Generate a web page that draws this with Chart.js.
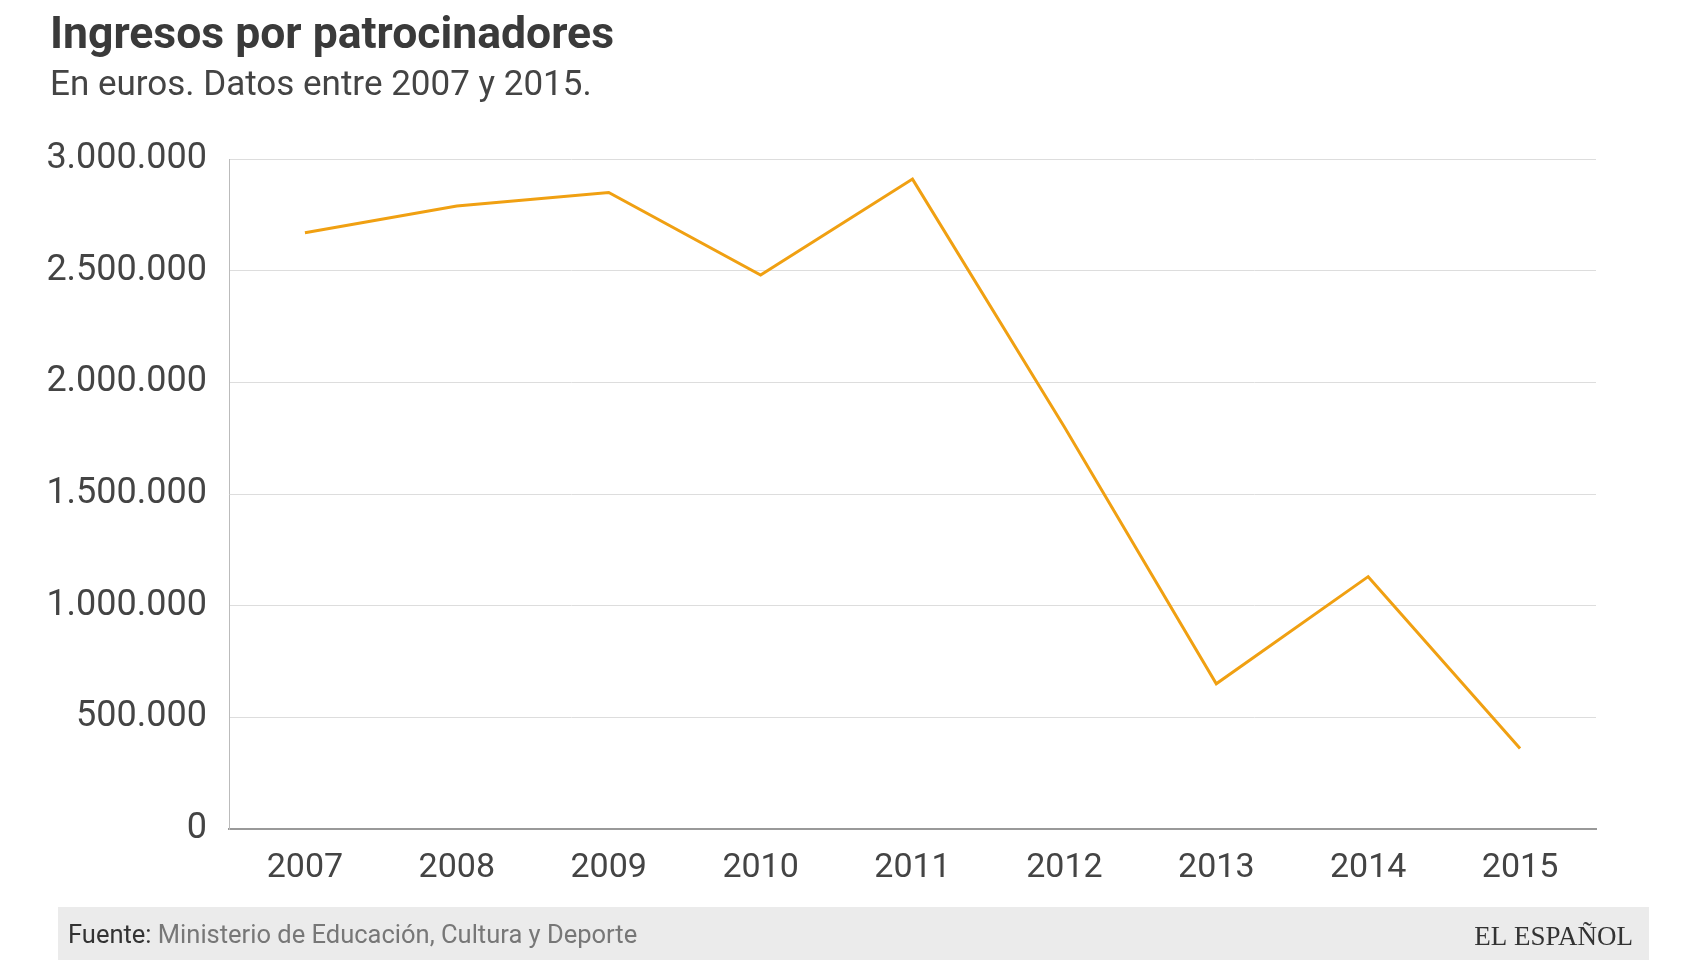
<!DOCTYPE html>
<html><head><meta charset="utf-8">
<script src="https://cdn.jsdelivr.net/npm/chart.js@4"></script>
<style>html,body{margin:0;padding:0;background:#fff}#w{position:relative;width:1706px;height:960px}</style>
</head><body><div id="w"><canvas id="c" width="1706" height="960"></canvas></div>
<script>
const years = ['2007','2008','2009','2010','2011','2012','2013','2014','2015'];
const ingresos = [2670000,2790000,2850000,2480000,2910000,1800000,650000,1130000,360000];
const yTicks = [0,500000,1000000,1500000,2000000,2500000,3000000];
const titleText = 'Ingresos por patrocinadores';
const subtitleText = 'En euros. Datos entre 2007 y 2015.';
const sourceLabel = 'Fuente:';
const sourceText = ' Ministerio de Educación, Cultura y Deporte';
const brand = 'EL ESPAÑOL';
const fmt = v => String(v).replace(/\B(?=(\d{3})+(?!\d))/g, '.');

const deco = {
  id:'deco',
  beforeDraw(ch){
    const c = ch.ctx; c.save();
    c.fillStyle='#ebebeb'; c.fillRect(58,907,1599-8,53);
    c.restore();
  },
  afterDraw(ch){
    const c = ch.ctx; c.save();
    c.textBaseline='middle'; c.textAlign='left';
    c.fillStyle='#3a3a3a'; c.font='bold 44.5px Roboto'; c.fillText(titleText,50,37);
    c.fillStyle='#444'; c.font='35px Roboto'; c.fillText(subtitleText,50,86);
    c.font='25.5px Roboto'; c.fillStyle='#333'; c.fillText(sourceLabel,68,937);
    const w = c.measureText(sourceLabel).width;
    c.fillStyle='#777'; c.fillText(sourceText,68+w,937);
    c.textAlign='right'; c.fillStyle='#333'; c.font='27px "Liberation Serif"'; c.fillText(brand,1633,938);
    c.restore();
  }
};

new Chart(document.getElementById('c'),{
  type:'line',
  data:{labels:years,datasets:[{data:ingresos,borderColor:'#f0a012',borderWidth:3,pointRadius:0,tension:0,fill:false}]},
  options:{
    responsive:false,animation:false,
    layout:{padding:{left:0,right:110,top:159,bottom:0}},
    plugins:{legend:{display:false},tooltip:{enabled:false}},
    scales:{
      x:{offset:true,grid:{display:false},border:{display:true,color:'#999',width:2},
         ticks:{color:'#444',font:{family:'Roboto',size:34},padding:11},
         afterFit(s){s.height=131;}},
      y:{min:0,max:3000000,afterBuildTicks(s){s.ticks=yTicks.map(v=>({value:v}));},
         grid:{color:'#dddddd',lineWidth:1,drawTicks:false},border:{display:true,color:'#bbb',width:1},
         ticks:{color:'#444',font:{family:'Roboto',size:36},padding:22,callback:v=>fmt(v)},
         afterFit(s){s.width=229;}}
    }
  },
  plugins:[deco]
});
</script></body></html>
